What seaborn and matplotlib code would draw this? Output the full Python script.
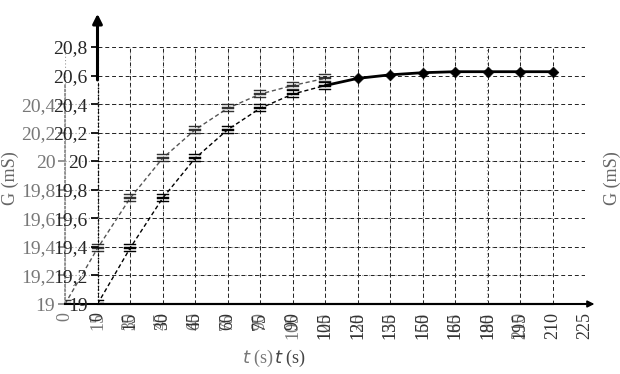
import numpy as np
import pandas as pd
import matplotlib
matplotlib.use("Agg")
import matplotlib.pyplot as plt
import seaborn as sns

# time (s) and conductance G (mS)
t_rise = [0, 15, 30, 45, 60, 75, 90, 105]
g_rise = [19.0, 19.39, 19.74, 20.02, 20.22, 20.37, 20.47, 20.53]
t_flat = [105, 120, 135, 150, 165, 180, 195, 210]
g_flat = [20.53, 20.58, 20.605, 20.62, 20.627, 20.627, 20.627, 20.627]

x_ticks = list(range(0, 226, 15))
y_ticks = [19.0, 19.2, 19.4, 19.6, 19.8, 20.0, 20.2, 20.4, 20.6, 20.8]
y_labels = ["19", "19,2", "19,4", "19,6", "19,8", "20", "20,2", "20,4", "20,6", "20,8"]

sns.set_theme(style="white")
plt.rcParams['font.family'] = ['Liberation Serif', 'DejaVu Serif']

fig = plt.figure(figsize=(6.2, 3.74), dpi=100)
W, H = 620, 374
ax_l, ax_b, ax_w, ax_h = 97.5 / W, 70 / H, 487.5 / W, 257 / H
shift = 32.5 / W
eq = r"$\equiv$"

# ghost copy of the chart, shifted one step to the left
axb = fig.add_axes([ax_l - shift, ax_b, ax_w, ax_h])
axb.set_xlim(0, 225)
axb.set_ylim(19, 20.8)
sns.lineplot(x=t_rise + [120], y=g_rise + [20.58], ax=axb, color="#555555",
             lw=1.0, linestyle=(0, (3, 2)), marker=eq, markersize=9, mew=0.3,
             mec="#333333", mfc="#333333")
axb.set_xticks(x_ticks[:-1])
axb.set_xticklabels([str(v) for v in x_ticks[:-1]], rotation=90, color="#777777", fontsize=13)
axb.set_yticks(y_ticks[:8])
axb.set_yticklabels(y_labels[:8], color="#777777", fontsize=14)
axb.grid(True, color="#999999", linestyle=(0, (1, 2)), lw=0.8)
for s in ["top", "right"]:
    axb.spines[s].set_visible(False)
axb.spines["left"].set_bounds(19, 20.55)
axb.spines["left"].set_linestyle((0, (1, 1.5)))
axb.spines["left"].set_color("#888888")
axb.spines["bottom"].set_color("black")
axb.spines["bottom"].set_linewidth(1.5)
axb.tick_params(axis="y", length=5, pad=2, left=True, color="#888888")
axb.tick_params(axis="x", length=0, pad=6)
axb.set_xlabel("$t$ (s)", fontsize=13, color="#777777")
axb.xaxis.set_label_coords((258 - 65) / 487.5, -0.17)
axb.set_ylabel("")
axb.patch.set_alpha(0)

# main chart
ax = fig.add_axes([ax_l, ax_b, ax_w, ax_h])
ax.patch.set_alpha(0)
ax.set_xlim(0, 225)
ax.set_ylim(19, 20.8)
sns.lineplot(x=t_rise, y=g_rise, ax=ax, color="black", lw=1.0, linestyle=(0, (3, 2)),
             marker=eq, markersize=9, mew=0.3, mec="black", mfc="black")
sns.lineplot(x=t_flat, y=g_flat, ax=ax, color="black", lw=2)
sns.scatterplot(x=t_flat[1:], y=g_flat[1:], ax=ax, color="black", marker="D", s=30,
                edgecolor="black", zorder=5)
ax.set_xticks(x_ticks)
ax.set_xticklabels([str(v) for v in x_ticks], rotation=90, fontsize=13, color="#333333")
ax.set_yticks(y_ticks)
ax.set_yticklabels(y_labels, fontsize=14)
ax.grid(True, color="#222222", linestyle=(0, (4, 3)), lw=0.7)
for s in ["top", "right", "left"]:
    ax.spines[s].set_visible(False)
ax.spines["bottom"].set_color("black")
ax.spines["bottom"].set_linewidth(1.5)
ax.tick_params(axis="y", length=5, pad=2, left=True, color="black")
ax.tick_params(axis="x", length=0, pad=6)
ax.set_xlabel("$t$ (s)", fontsize=13, color="#444444")
ax.xaxis.set_label_coords((290 - 97.5) / 487.5, -0.17)
ax.set_ylabel("")

# y axis: dotted lower part, thick arrow above
ax.plot([0, 0], [19, 20.55], color="black", lw=1, linestyle=(0, (1, 1.5)), clip_on=False)
ax.annotate("", xy=(0, 1.14), xytext=(0, (20.55 - 19) / 1.8), xycoords="axes fraction",
            arrowprops=dict(arrowstyle="-|>", lw=2.2, color="black", mutation_scale=14))
# x axis arrow
ax.annotate("", xy=(1.025, 0), xytext=(0.9, 0), xycoords="axes fraction",
            arrowprops=dict(arrowstyle="-|>", lw=1.2, color="black", mutation_scale=10))

fig.text(10 / W, 1 - 178 / H, "G (mS)", rotation=90, ha="center", va="center",
         fontsize=13, color="#666666")
fig.text(612 / W, 1 - 178 / H, "G (mS)", rotation=90, ha="center", va="center",
         fontsize=13, color="#666666")

fig.savefig("out.png", dpi=100)
